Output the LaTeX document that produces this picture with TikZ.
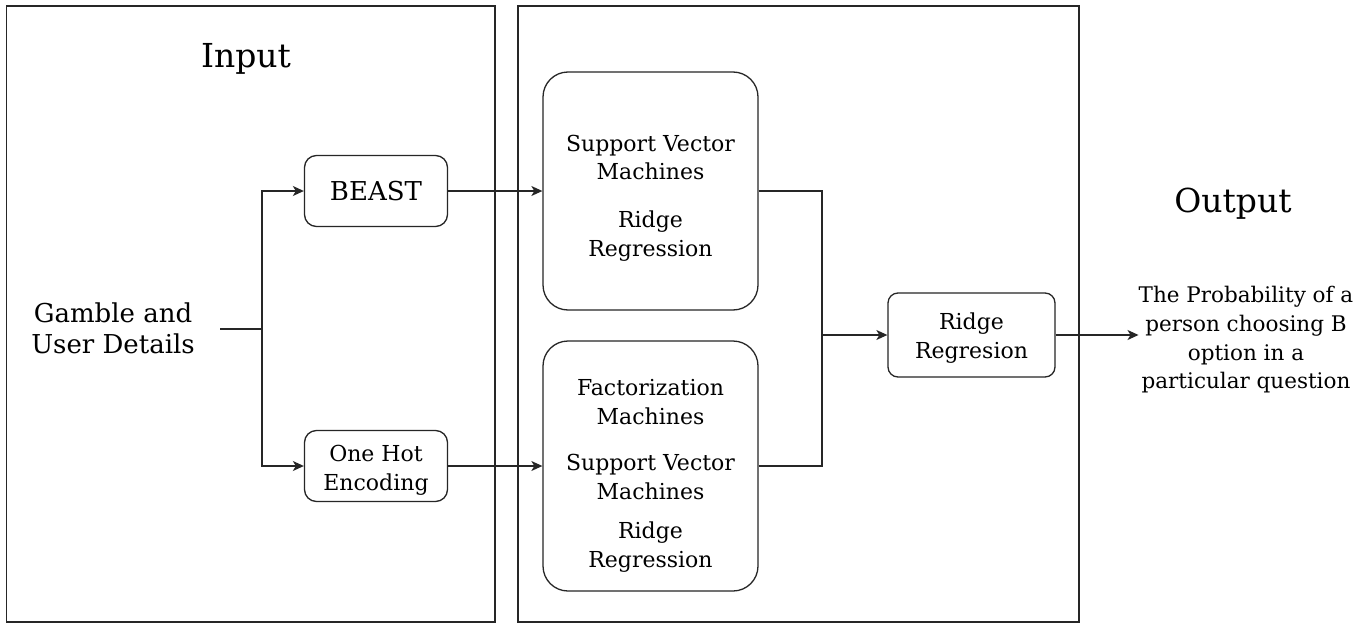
\documentclass[tikz,border=0pt]{standalone}
\usepackage{fontspec}
\setmainfont{DejaVu Serif}
\usetikzlibrary{arrows.meta}
\begin{document}
\begin{tikzpicture}[x=1pt,y=-1pt,
  ln/.style={line width=1.3pt, draw=black!85},
  arr/.style={ln, -{Stealth[length=11pt,width=10pt,inset=3pt]}},
  panel/.style={ln, draw, inner sep=0pt},
  rbox/.style={ln, draw, rounded corners=#1, inner sep=0pt, align=center,
    font=\fontsize{21.5}{28.7}\selectfont},
  txt/.style={font=\fontsize{22}{28.7}\selectfont, align=center, inner sep=0pt},
  bigtxt/.style={font=\fontsize{26}{31}\selectfont, align=center, inner sep=0pt},
  title/.style={font=\fontsize{33}{40}\selectfont, inner sep=0pt, anchor=base},
]
\useasboundingbox (0,0) rectangle (1366,629);
\fill[white] (0,0) rectangle (1366,629);
% panels
\node[panel, minimum width=488.5pt, minimum height=616pt] (leftpanel) at (250.75,314) {};
\node[panel, minimum width=561pt, minimum height=616pt] (rightpanel) at (798.5,314) {};
% titles
\node[title] (intitle) at (246,67) {Input};
\node[title] (outtitle) at (1233,212) {Output};
% input text
\node[bigtxt] (gamble) at (113,328) {Gamble and\\User Details};
\coordinate (gin) at (220,329);
\coordinate (split) at (262,329);
% first stage boxes
\node[rbox=12pt, minimum width=143pt, minimum height=71pt, font=\fontsize{26}{31}\selectfont] (beast) at (376,191) {BEAST};
\node[rbox=12pt, minimum width=143pt, minimum height=71pt] (ohe) at (376,466) {};
\node[txt] (ohetext) at (376,470) {One Hot\\Encoding};
% model boxes
\node[rbox=25pt, minimum width=215pt, minimum height=238pt] (svm) at (650.5,191) {};
\node[txt] (svmtext) at (650.5,198) {Support Vector\\Machines\\[19pt]Ridge\\Regression};
\node[rbox=25pt, minimum width=215pt, minimum height=250pt] (fm) at (650.5,466) {};
\node[txt] (fmtext) at (650.5,476) {Factorization\\Machines\\[17pt]Support Vector\\Machines\\[11pt]Ridge\\Regression};
% final
\node[rbox=10pt, minimum width=167pt, minimum height=84pt] (rr) at (971.5,335) {};
\node[txt] (rrtext) at (971.5,338) {Ridge\\Regresion};
\node[txt, font=\fontsize{21.5}{28.7}\selectfont] (out) at (1246,340) {The Probability of a\\person choosing B\\option in a\\particular question};
\coordinate (merge) at (822,335);
% connectors
\draw[ln] (gin) -- (split);
\draw[arr] (split) |- (beast.west);
\draw[arr] (split) |- (ohe.west);
\draw[arr] (beast.east) -- (svm.west);
\draw[arr] (ohe.east) -- (fm.west);
\draw[ln] (svm.east) -| (merge);
\draw[ln] (fm.east) -| (merge);
\draw[arr] (merge) -- (rr.west);
\draw[arr] (rr.east) -- (out.west |- rr.east);
\end{tikzpicture}
\end{document}
